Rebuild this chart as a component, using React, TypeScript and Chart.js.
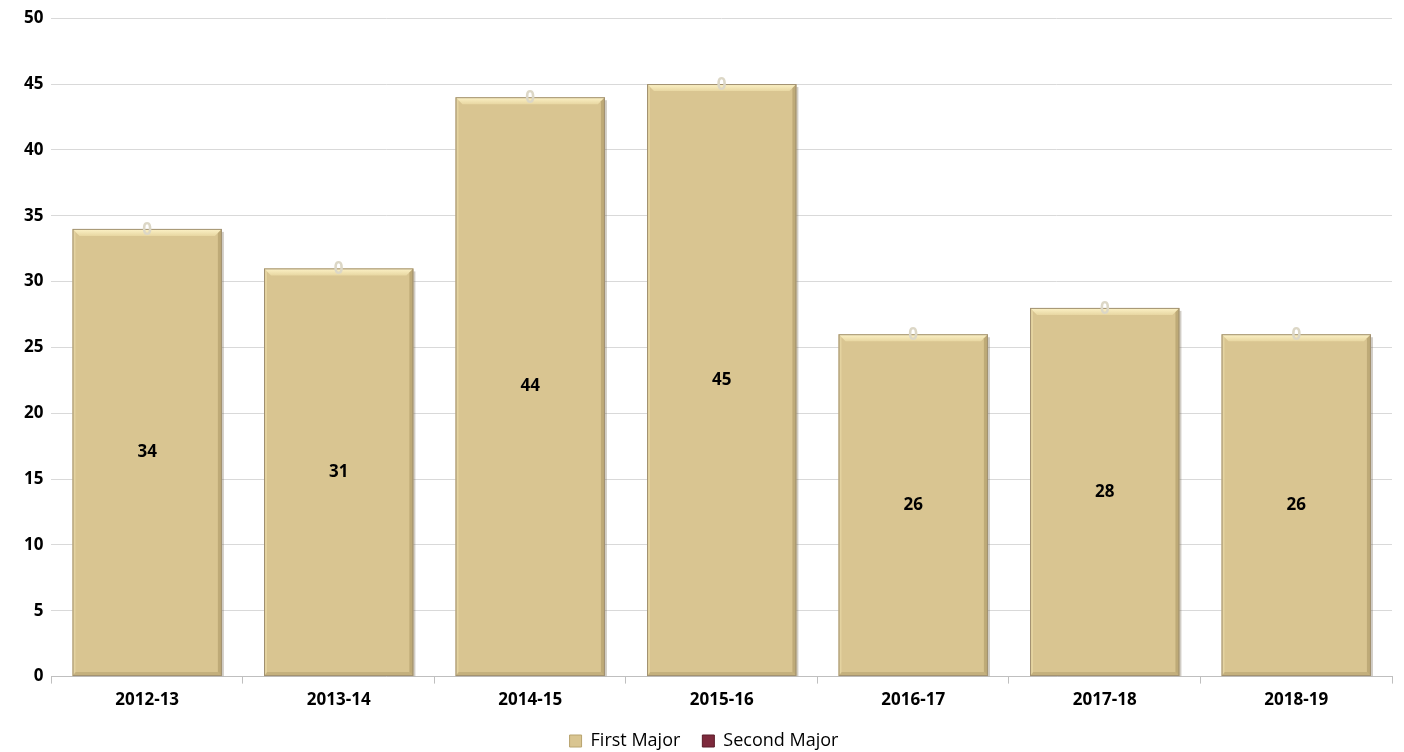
import React, { useEffect, useRef } from "react";
import { Chart, registerables } from "chart.js";

Chart.register(...registerables);

const categories = ["2012-13", "2013-14", "2014-15", "2015-16", "2016-17", "2017-18", "2018-19"];
const firstMajor = [34, 31, 44, 45, 26, 28, 26];
const secondMajor = [0, 0, 0, 0, 0, 0, 0];
const yTicks = [0, 5, 10, 15, 20, 25, 30, 35, 40, 45, 50];

const FONT = "'Open Sans', 'Noto Sans', sans-serif";

const labelPlugin = {
  id: "valueLabels",
  afterDatasetsDraw(chart: any) {
    const ctx = chart.ctx;
    ctx.save();
    ctx.textAlign = "center";
    ctx.textBaseline = "middle";
    const m0 = chart.getDatasetMeta(0);
    const m1 = chart.getDatasetMeta(1);
    m0.data.forEach((bar: any, i: number) => {
      const base = bar.base;
      const y = (bar.y + base) / 2;
      ctx.font = `bold 17px ${FONT}`;
      ctx.fillStyle = "#000000";
      ctx.fillText(String(firstMajor[i]), bar.x, y);
    });
    m1.data.forEach((bar: any, i: number) => {
      ctx.font = `bold 17px ${FONT}`;
      ctx.fillStyle = "#dcd7c6";
      ctx.fillText(String(secondMajor[i]), bar.x, bar.y + 1);
    });
    ctx.restore();
  },
};

const bevelPlugin = {
  id: "bevel",
  afterDatasetDraw(chart: any, args: any) {
    if (args.index !== 0) return;
    const ctx = chart.ctx;
    const meta = chart.getDatasetMeta(0);
    ctx.save();
    meta.data.forEach((bar: any) => {
      const w = bar.width;
      const l = bar.x - w / 2;
      const r = bar.x + w / 2;
      const t = bar.y;
      const b = bar.base;
      const d = 7;
      ctx.fillStyle = "rgba(120,110,90,0.35)";
      ctx.fillRect(r, t + 3, 2, b - t - 3);
      const g = ctx.createLinearGradient(0, t, 0, t + d);
      g.addColorStop(0, "#fdf3c8");
      g.addColorStop(1, "#e8d7a2");
      ctx.fillStyle = g;
      ctx.beginPath();
      ctx.moveTo(l, t);
      ctx.lineTo(r, t);
      ctx.lineTo(r - d, t + d);
      ctx.lineTo(l + d, t + d);
      ctx.closePath();
      ctx.fill();
      ctx.fillStyle = "rgba(240,225,175,0.5)";
      ctx.beginPath();
      ctx.moveTo(l, t);
      ctx.lineTo(l + 3, t + 3);
      ctx.lineTo(l + 3, b - 3);
      ctx.lineTo(l, b);
      ctx.closePath();
      ctx.fill();
      ctx.fillStyle = "rgba(150,130,80,0.4)";
      ctx.beginPath();
      ctx.moveTo(r, t);
      ctx.lineTo(r, b);
      ctx.lineTo(r - 4, b - 4);
      ctx.lineTo(r - 4, t + 4);
      ctx.closePath();
      ctx.fill();
      ctx.fillStyle = "rgba(150,130,80,0.3)";
      ctx.beginPath();
      ctx.moveTo(l, b);
      ctx.lineTo(r, b);
      ctx.lineTo(r - 4, b - 4);
      ctx.lineTo(l + 3, b - 4);
      ctx.closePath();
      ctx.fill();
      ctx.strokeStyle = "#a09070";
      ctx.lineWidth = 1;
      ctx.strokeRect(l + 0.5, t + 0.5, w - 1, b - t - 1);
    });
    ctx.restore();
  },
};

export default function App() {
  const ref = useRef<HTMLCanvasElement | null>(null);
  useEffect(() => {
    if (!ref.current) return;
    const chart = new Chart(ref.current, {
      type: "bar",
      data: {
        labels: categories,
        datasets: [
          {
            label: "First Major",
            data: firstMajor,
            backgroundColor: "#d9c591",
            borderWidth: 0,
            barPercentage: 0.78,
            categoryPercentage: 1,
          },
          {
            label: "Second Major",
            data: secondMajor,
            backgroundColor: "#7d2a3c",
            borderWidth: 0,
            barPercentage: 0.78,
            categoryPercentage: 1,
          },
        ],
      },
      options: {
        animation: false,
        responsive: true,
        maintainAspectRatio: false,
        layout: { padding: { top: 6, right: 12, left: 16, bottom: -8 } },
        plugins: {
          tooltip: { enabled: false },
          legend: {
            position: "bottom",
            labels: {
              boxWidth: 12,
              boxHeight: 12,
              padding: 22,
              color: "#222",
              font: { family: FONT, size: 18 },
              generateLabels: (c: any) =>
                c.data.datasets.map((ds: any, i: number) => ({
                  text: ds.label,
                  fillStyle: ds.backgroundColor,
                  strokeStyle: i === 0 ? "#b8a46e" : "#5a1a28",
                  lineWidth: 1,
                  datasetIndex: i,
                  hidden: false,
                })),
            },
          },
        },
        scales: {
          x: {
            stacked: true,
            afterFit: (scale: any) => {
              scale.height -= 6;
            },
            grid: {
              offset: true,
              drawOnChartArea: false,
              drawTicks: true,
              tickLength: 7,
              color: "#bfbfbf",
            },
            border: { color: "#bfbfbf" },
            ticks: {
              color: "#000",
              font: { family: FONT, size: 17, weight: "bold" },
              padding: 6,
            },
          },
          y: {
            stacked: true,
            min: 0,
            max: 50,
            afterBuildTicks: (axis: any) => {
              axis.ticks = yTicks.map((v) => ({ value: v }));
            },
            grid: { color: "#d9d9d9", drawTicks: false, lineWidth: 1 },
            border: { display: false },
            ticks: {
              color: "#000",
              padding: 8,
              font: { family: FONT, size: 17, weight: "bold" },
            },
          },
        },
      },
      plugins: [bevelPlugin, labelPlugin],
    });
    return () => chart.destroy();
  }, []);
  return (
    <div style={{ position: "fixed", left: 0, top: 0, width: 1404, height: 752, background: "#fff" }}>
      <canvas ref={ref} />
    </div>
  );
}
